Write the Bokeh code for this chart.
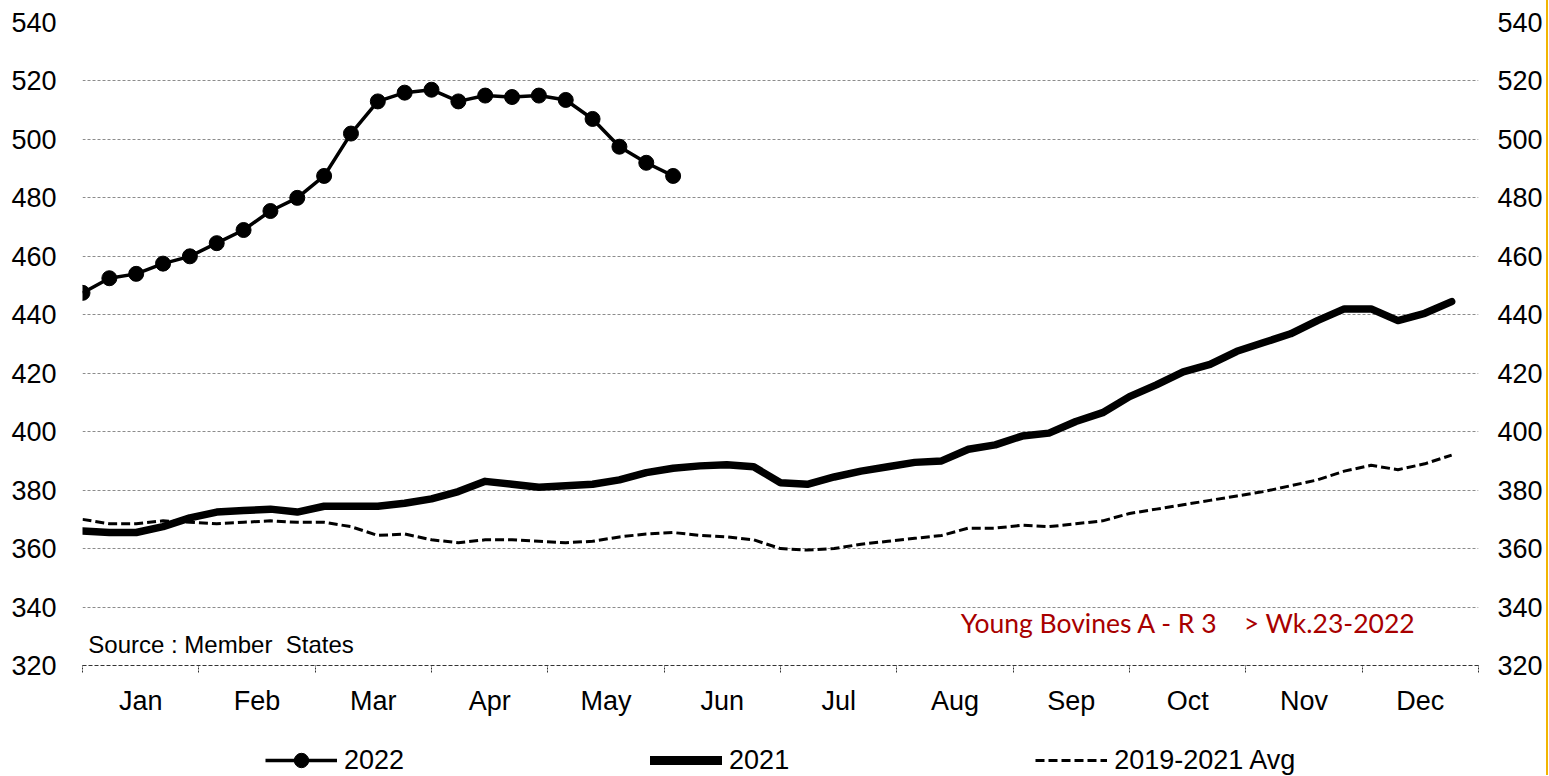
from bokeh.plotting import figure
from bokeh.models import (Range1d, LinearAxis, FixedTicker, Legend, LegendItem,
                          Label, Div, ColumnDataSource)
from bokeh.layouts import row, column
from bokeh.embed import file_html
from bokeh.resources import INLINE

# ---------------- data ----------------
months = ["Jan", "Feb", "Mar", "Apr", "May", "Jun",
          "Jul", "Aug", "Sep", "Oct", "Nov", "Dec"]
y_ticks = [320, 340, 360, 380, 400, 420, 440, 460, 480, 500, 520, 540]
series_names = ["2022", "2021", "2019-2021 Avg"]

price_2022 = [447.5, 452.5, 454, 457.5, 460, 464.5, 469, 475.5, 480, 487.5,
              502, 513, 516, 517, 513, 515, 514.5, 515, 513.5, 507,
              497.5, 492, 487.5]

price_2021 = [366, 365.5, 365.5, 367.5, 370.5, 372.5, 373, 373.5, 372.5, 374.5,
              374.5, 374.5, 375.5, 377, 379.5, 383, 382, 381, 381.5, 382,
              383.5, 386, 387.5, 388.3, 388.7, 388, 382.5, 382, 384.5, 386.5,
              388, 389.5, 390, 394, 395.5, 398.5, 399.5, 403.5, 406.5, 412,
              416, 420.5, 423, 427.5, 430.5, 433.5, 438, 442, 442, 438,
              440.5, 444.5]

price_avg = [370, 368.5, 368.5, 369.5, 369, 368.5, 369, 369.5, 369, 369,
             367.5, 364.5, 365, 363, 362, 363, 363, 362.5, 362, 362.5,
             364, 365, 365.5, 364.5, 364, 363, 360, 359.5, 360, 361.5,
             362.5, 363.5, 364.5, 367, 367, 368, 367.5, 368.5, 369.5, 372,
             373.5, 375, 376.5, 378, 379.5, 381.5, 383.5, 386.5, 388.5, 387,
             389, 392]

WEEKS_IN_YEAR = 52


def week_to_month_axis(n):
    # week 1 sits on the left edge; 52 weeks span the 12 months
    return [(w - 1) * 12 / WEEKS_IN_YEAR for w in range(1, n + 1)]


src22 = ColumnDataSource(dict(x=week_to_month_axis(len(price_2022)), y=price_2022))
src21 = ColumnDataSource(dict(x=week_to_month_axis(len(price_2021)), y=price_2021))
srcav = ColumnDataSource(dict(x=week_to_month_axis(len(price_avg)), y=price_avg))

FONT = "Liberation Sans"
NB = "\u00a0"

# styles
S22_LINE = dict(line_color="black", line_width=3.5, line_join="round")
S22_MARK = dict(marker="circle", size=15, fill_color="black", line_color="black")
S21 = dict(line_color="black", line_width=7.5, line_join="round", line_cap="round")
SAV = dict(line_color="black", line_width=3, line_dash="9 4")

p = figure(frame_width=1396, frame_height=643,
           x_range=Range1d(0, 12), y_range=Range1d(y_ticks[0], y_ticks[-1]),
           output_backend="svg", toolbar_location=None,
           min_border_left=82, min_border_right=68,
           min_border_top=22, min_border_bottom=60)
p.outline_line_color = None
p.background_fill_color = "white"
p.border_fill_color = "white"

# grid
p.xgrid.visible = False
p.ygrid.ticker = FixedTicker(ticks=y_ticks)
p.ygrid.grid_line_color = "#8c8c8c"
p.ygrid.grid_line_dash = "3 2"
p.ygrid.grid_line_width = 1

# left axis
yl = p.yaxis[0]
yl.ticker = FixedTicker(ticks=y_ticks)
yl.axis_line_color = None
yl.major_tick_out = 0
yl.major_tick_in = 0
yl.minor_tick_out = 0
yl.minor_tick_in = 0
yl.major_label_standoff = 26
yl.major_label_text_font = FONT
yl.major_label_text_font_size = "27px"
yl.major_label_text_color = "black"

# right axis
yr = LinearAxis(ticker=FixedTicker(ticks=y_ticks))
yr.axis_line_color = None
yr.major_tick_out = 0
yr.major_tick_in = 0
yr.minor_tick_out = 0
yr.minor_tick_in = 0
yr.major_label_standoff = 19
yr.major_label_text_font = FONT
yr.major_label_text_font_size = "27px"
yr.major_label_text_color = "black"
p.add_layout(yr, "right")

# bottom axis: labels centred in months, ticks at month boundaries
month_centres = [k + 0.5 for k in range(len(months))]
month_edges = [k for k in range(len(months) + 1)]
xa = p.xaxis[0]
xa.ticker = FixedTicker(ticks=month_centres, minor_ticks=month_edges)
xa.major_label_overrides = {c: m for c, m in zip(month_centres, months)}
xa.major_tick_out = 0
xa.major_tick_in = 0
xa.minor_tick_out = 7
xa.minor_tick_in = 0
xa.minor_tick_line_color = "#333333"
xa.minor_tick_line_dash = "2 1"
xa.axis_line_color = "#333333"
xa.axis_line_dash = "4 2"
xa.axis_line_width = 1.2
xa.major_label_standoff = 13
xa.major_label_text_font = FONT
xa.major_label_text_font_size = "27px"
xa.major_label_text_color = "black"

# series
p.line("x", "y", source=srcav, **SAV)
p.line("x", "y", source=src21, **S21)
p.line("x", "y", source=src22, **S22_LINE)
p.scatter("x", "y", source=src22, **S22_MARK)

# texts
p.add_layout(Label(x=0.05, y=327.2, text="Source" + NB + ":" + NB + "Member" + NB + NB + "States",
                   text_font=FONT, text_font_size="24px", text_color="black",
                   text_baseline="middle", text_align="left"))
p.add_layout(Label(x=7.55, y=334.5,
                   text="Young Bovines A - R 3" + NB * 4 + "> Wk.23-2022",
                   text_font="Lato", text_font_size="26.5px", text_color="#A80000",
                   text_baseline="middle", text_align="left"))

# ---------------- legend strip below the chart ----------------
lf = figure(width=1546, height=50, x_range=Range1d(0, 1), y_range=Range1d(0, 1),
            output_backend="svg", toolbar_location=None, min_border=0)
lf.axis.visible = False
lf.grid.visible = False
lf.outline_line_color = None
lf.border_fill_color = "white"
lf.background_fill_color = "white"

# legend swatches share the series styles (a single undrawn NaN row each)
NAN = float("nan")
k22l = lf.line(x=[NAN], y=[NAN], **S22_LINE)
k22m = lf.scatter(x=[NAN], y=[NAN], **S22_MARK)
k21 = lf.line(x=[NAN], y=[NAN], line_color="black", line_width=9, line_cap="round")
kav = lf.line(x=[NAN], y=[NAN], **SAV)

legend = Legend(items=[LegendItem(label=series_names[0], renderers=[k22l, k22m]),
                       LegendItem(label=series_names[1], renderers=[k21]),
                       LegendItem(label=series_names[2], renderers=[kav])],
                orientation="horizontal", location=(183, -3),
                spacing=246, glyph_width=72, glyph_height=36,
                label_standoff=7,
                label_text_font=FONT, label_text_font_size="27px",
                label_text_color="black",
                border_line_color=None, background_fill_alpha=0,
                margin=0, padding=0)
lf.add_layout(legend)

edge = Div(text="", width=2, height=775,
           styles={"background-color": "#F2B400", "margin": "0", "padding": "0"})

layout = row(column(p, lf, spacing=0), edge, spacing=0)

with open("out.html", "w") as f:
    f.write(file_html(layout, INLINE))
